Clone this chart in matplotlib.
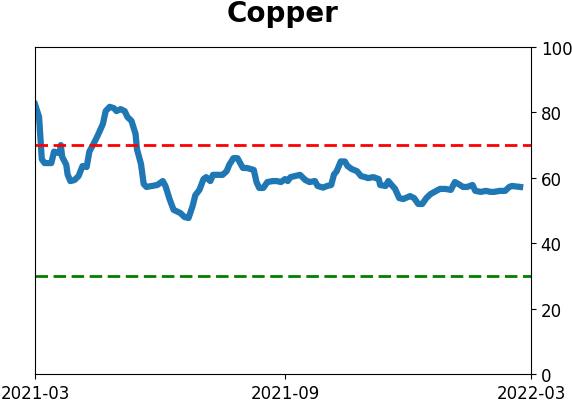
import pandas as pd
import matplotlib
matplotlib.use("Agg")
import matplotlib.pyplot as plt
import matplotlib.dates as mdates

dates = [
    "2021-03-01", "2021-03-04", "2021-03-06", "2021-03-08", "2021-03-13", "2021-03-15",
    "2021-03-19", "2021-03-20", "2021-03-21", "2021-03-24", "2021-03-25", "2021-03-27",
    "2021-03-30", "2021-04-02", "2021-04-05", "2021-04-08", "2021-04-10", "2021-04-13",
    "2021-04-16", "2021-04-20", "2021-04-22", "2021-04-25", "2021-04-28", "2021-04-30",
    "2021-05-03", "2021-05-06", "2021-05-08", "2021-05-11", "2021-05-14", "2021-05-15",
    "2021-05-18", "2021-05-20", "2021-05-22", "2021-05-26", "2021-05-30", "2021-06-03",
    "2021-06-05", "2021-06-08", "2021-06-11", "2021-06-16", "2021-06-19", "2021-06-22",
    "2021-06-25", "2021-06-27", "2021-06-30", "2021-07-03", "2021-07-05", "2021-07-08",
    "2021-07-10", "2021-07-14", "2021-07-17", "2021-07-20", "2021-07-22", "2021-07-25",
    "2021-07-28", "2021-07-30", "2021-08-01", "2021-08-04", "2021-08-09", "2021-08-11",
    "2021-08-13", "2021-08-16", "2021-08-19", "2021-08-23", "2021-08-26", "2021-08-29",
    "2021-09-01", "2021-09-03", "2021-09-05", "2021-09-09", "2021-09-12", "2021-09-16",
    "2021-09-19", "2021-09-23", "2021-09-25", "2021-09-29", "2021-10-02", "2021-10-05",
    "2021-10-07", "2021-10-09", "2021-10-12", "2021-10-15", "2021-10-17", "2021-10-20",
    "2021-10-24", "2021-10-27", "2021-10-30", "2021-11-01", "2021-11-05", "2021-11-09",
    "2021-11-10", "2021-11-14", "2021-11-16", "2021-11-18", "2021-11-21", "2021-11-24",
    "2021-11-27", "2021-12-02", "2021-12-05", "2021-12-08", "2021-12-11", "2021-12-14",
    "2021-12-17", "2021-12-20", "2021-12-24", "2021-12-28", "2022-01-01", "2022-01-04",
    "2022-01-07", "2022-01-10", "2022-01-13", "2022-01-17", "2022-01-19", "2022-01-23",
    "2022-01-27", "2022-01-30", "2022-02-02", "2022-02-06", "2022-02-10", "2022-02-13",
    "2022-02-15", "2022-02-21",
]
values = [
    82.5, 78.6, 65.7, 64.5, 64.5, 68.0,
    67.5, 70.0, 66.4, 64.0, 61.0, 59.0,
    59.3, 60.5, 63.6, 63.3, 68.0, 70.3,
    72.8, 76.5, 80.4, 81.7, 81.3, 80.4,
    81.0, 80.4, 78.6, 77.4, 73.4, 68.8,
    64.2, 58.1, 57.2, 57.5, 57.8, 59.0,
    57.5, 53.5, 50.2, 49.2, 48.0, 47.7,
    51.4, 54.7, 56.3, 59.6, 60.2, 59.0,
    60.9, 60.9, 60.9, 62.0, 64.0, 66.0,
    66.0, 64.5, 63.0, 63.0, 62.4, 58.7,
    56.9, 56.9, 58.7, 59.0, 59.0, 58.7,
    59.6, 59.0, 60.2, 60.6, 60.9, 59.3,
    58.7, 59.0, 57.5, 57.0, 57.5, 57.8,
    61.0, 62.0, 65.0, 65.0, 63.6, 62.7,
    62.0, 60.5, 60.2, 59.9, 60.2, 59.6,
    57.8, 57.5, 59.0, 58.0, 56.6, 53.8,
    53.5, 54.4, 53.8, 52.0, 52.0, 53.8,
    55.0, 55.7, 56.6, 56.6, 56.3, 58.7,
    58.0, 57.2, 57.2, 57.8, 56.0, 55.7,
    56.0, 55.7, 55.7, 56.0, 56.0, 57.2,
    57.5, 57.2,
]
upper = 70
lower = 30

x = pd.to_datetime(dates)

fig = plt.figure(figsize=(5.72, 4.02), dpi=100)
ax = fig.add_axes([0.0612, 0.0672, 0.8671, 0.8134])

ax.plot(x, values, color="#1f77b4", linewidth=4.5)
ax.axhline(upper, color="red", linestyle="--", linewidth=2, dashes=(4.5, 2))
ax.axhline(lower, color="green", linestyle="--", linewidth=2, dashes=(4.5, 2))

ax.set_ylim(0, 100)
ax.set_xlim(pd.Timestamp("2021-03-01"), pd.Timestamp("2022-03-01"))
ax.yaxis.tick_right()
ax.set_yticks([0, 20, 40, 60, 80, 100])
ax.set_xticks(pd.to_datetime(["2021-03-01", "2021-09-01", "2022-03-01"]))
ax.xaxis.set_major_formatter(mdates.DateFormatter("%Y-%m"))
ax.tick_params(labelsize=12)
ax.set_title("Copper", fontsize=20, fontweight="bold", pad=19)

fig.savefig("out.png", dpi=100)
